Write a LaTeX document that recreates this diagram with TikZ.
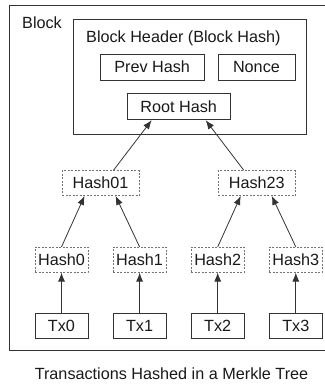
\documentclass[tikz,border=0pt]{standalone}
\usepackage{fontspec}
\setmainfont{Liberation Sans}
\usetikzlibrary{positioning, arrows.meta, calc}
\tikzset{node distance=24.3pt, % gap between neighbouring boxes
frame/.style={ % plain solid boxes
draw=black!80, line width=0.8pt},
txbox/.style={ % transaction boxes
frame, minimum width=53pt, minimum height=25pt, inner sep=2pt},
fieldbox/.style={ % header fields
frame, minimum height=26pt, inner sep=2pt},
hashbox/.style={ % dashed hash boxes
draw=black!55, line width=0.7pt, dash pattern=on 2pt off 1.5pt,
minimum width=53pt, minimum height=25pt, inner sep=2pt},
link/.style={ % arrows up the tree
draw=black!80, line width=0.8pt, -{Latex[length=9pt,width=7pt]}}}

\begin{document}
\begin{tikzpicture}[x=1pt, y=-1pt, font=\fontsize{16.2}{19}\selectfont, text=black!90]
    \useasboundingbox (0,0) rectangle (324,385);

    % outer block and header
    \draw[frame] (9,5) rectangle (330,350);
    \node[anchor=base west, inner sep=0] (blocklabel) at (22,28.5) {Block};
    \node[frame, anchor=north west, minimum width=233pt, minimum height=115pt] (header) at (73,19) {};
    \node[anchor=base west, inner sep=0] (headtitle) at (86,42.5) {Block Header (Block Hash)};

    % transactions
    \node[txbox] (tx0) at (61.5,325.5) {Tx0};
    \node[txbox, right=of tx0] (tx1) {Tx1};
    \node[txbox, right=of tx1] (tx2) {Tx2};
    \node[txbox, right=of tx2] (tx3) {Tx3};

    % leaf hashes
    \node[hashbox, above=40pt of tx0] (h0) {Hash0};
    \node[hashbox, above=40pt of tx1] (h1) {Hash1};
    \node[hashbox, above=40pt of tx2] (h2) {Hash2};
    \node[hashbox, above=40pt of tx3] (h3) {Hash3};

    % inner hashes
    \coordinate (m01) at ($(h0.north)!0.5!(h1.north)$);
    \coordinate (m23) at ($(h2.north)!0.5!(h3.north)$);
    \node[hashbox, minimum width=77pt, above=51pt of m01] (h01) {Hash01};
    \node[hashbox, minimum width=77pt, above=51pt of m23] (h23) {Hash23};

    % header fields
    \coordinate (mroot) at ($(h01.north)!0.5!(h23.north)$);
    \node[fieldbox, minimum width=103pt, above=50pt of mroot] (root) {Root Hash};
    \node[fieldbox, minimum width=104pt, above=13pt of root, xshift=-26.5pt] (prev) {Prev Hash};
    \node[fieldbox, minimum width=77pt, right=13pt of prev] (nonce) {Nonce};

    \draw[link] (tx0) -- (h0);
    \draw[link] (tx1) -- (h1);
    \draw[link] (tx2) -- (h2);
    \draw[link] (tx3) -- (h3);
    \draw[link] (h0.north) -- ([xshift=-16pt]h01.south);
    \draw[link] (h1.north) -- ([xshift=15pt]h01.south);
    \draw[link] (h2.north) -- ([xshift=-16pt]h23.south);
    \draw[link] (h3.north) -- ([xshift=15pt]h23.south);
    \draw[link] ([xshift=13pt]h01.north) -- ([xshift=-27pt]root.south);
    \draw[link] ([xshift=-13pt]h23.north) -- ([xshift=27pt]root.south);

    \node[anchor=base, inner sep=0] (caption) at (171.5,379) {Transactions Hashed in a Merkle Tree};

\end{tikzpicture}
\end{document}
